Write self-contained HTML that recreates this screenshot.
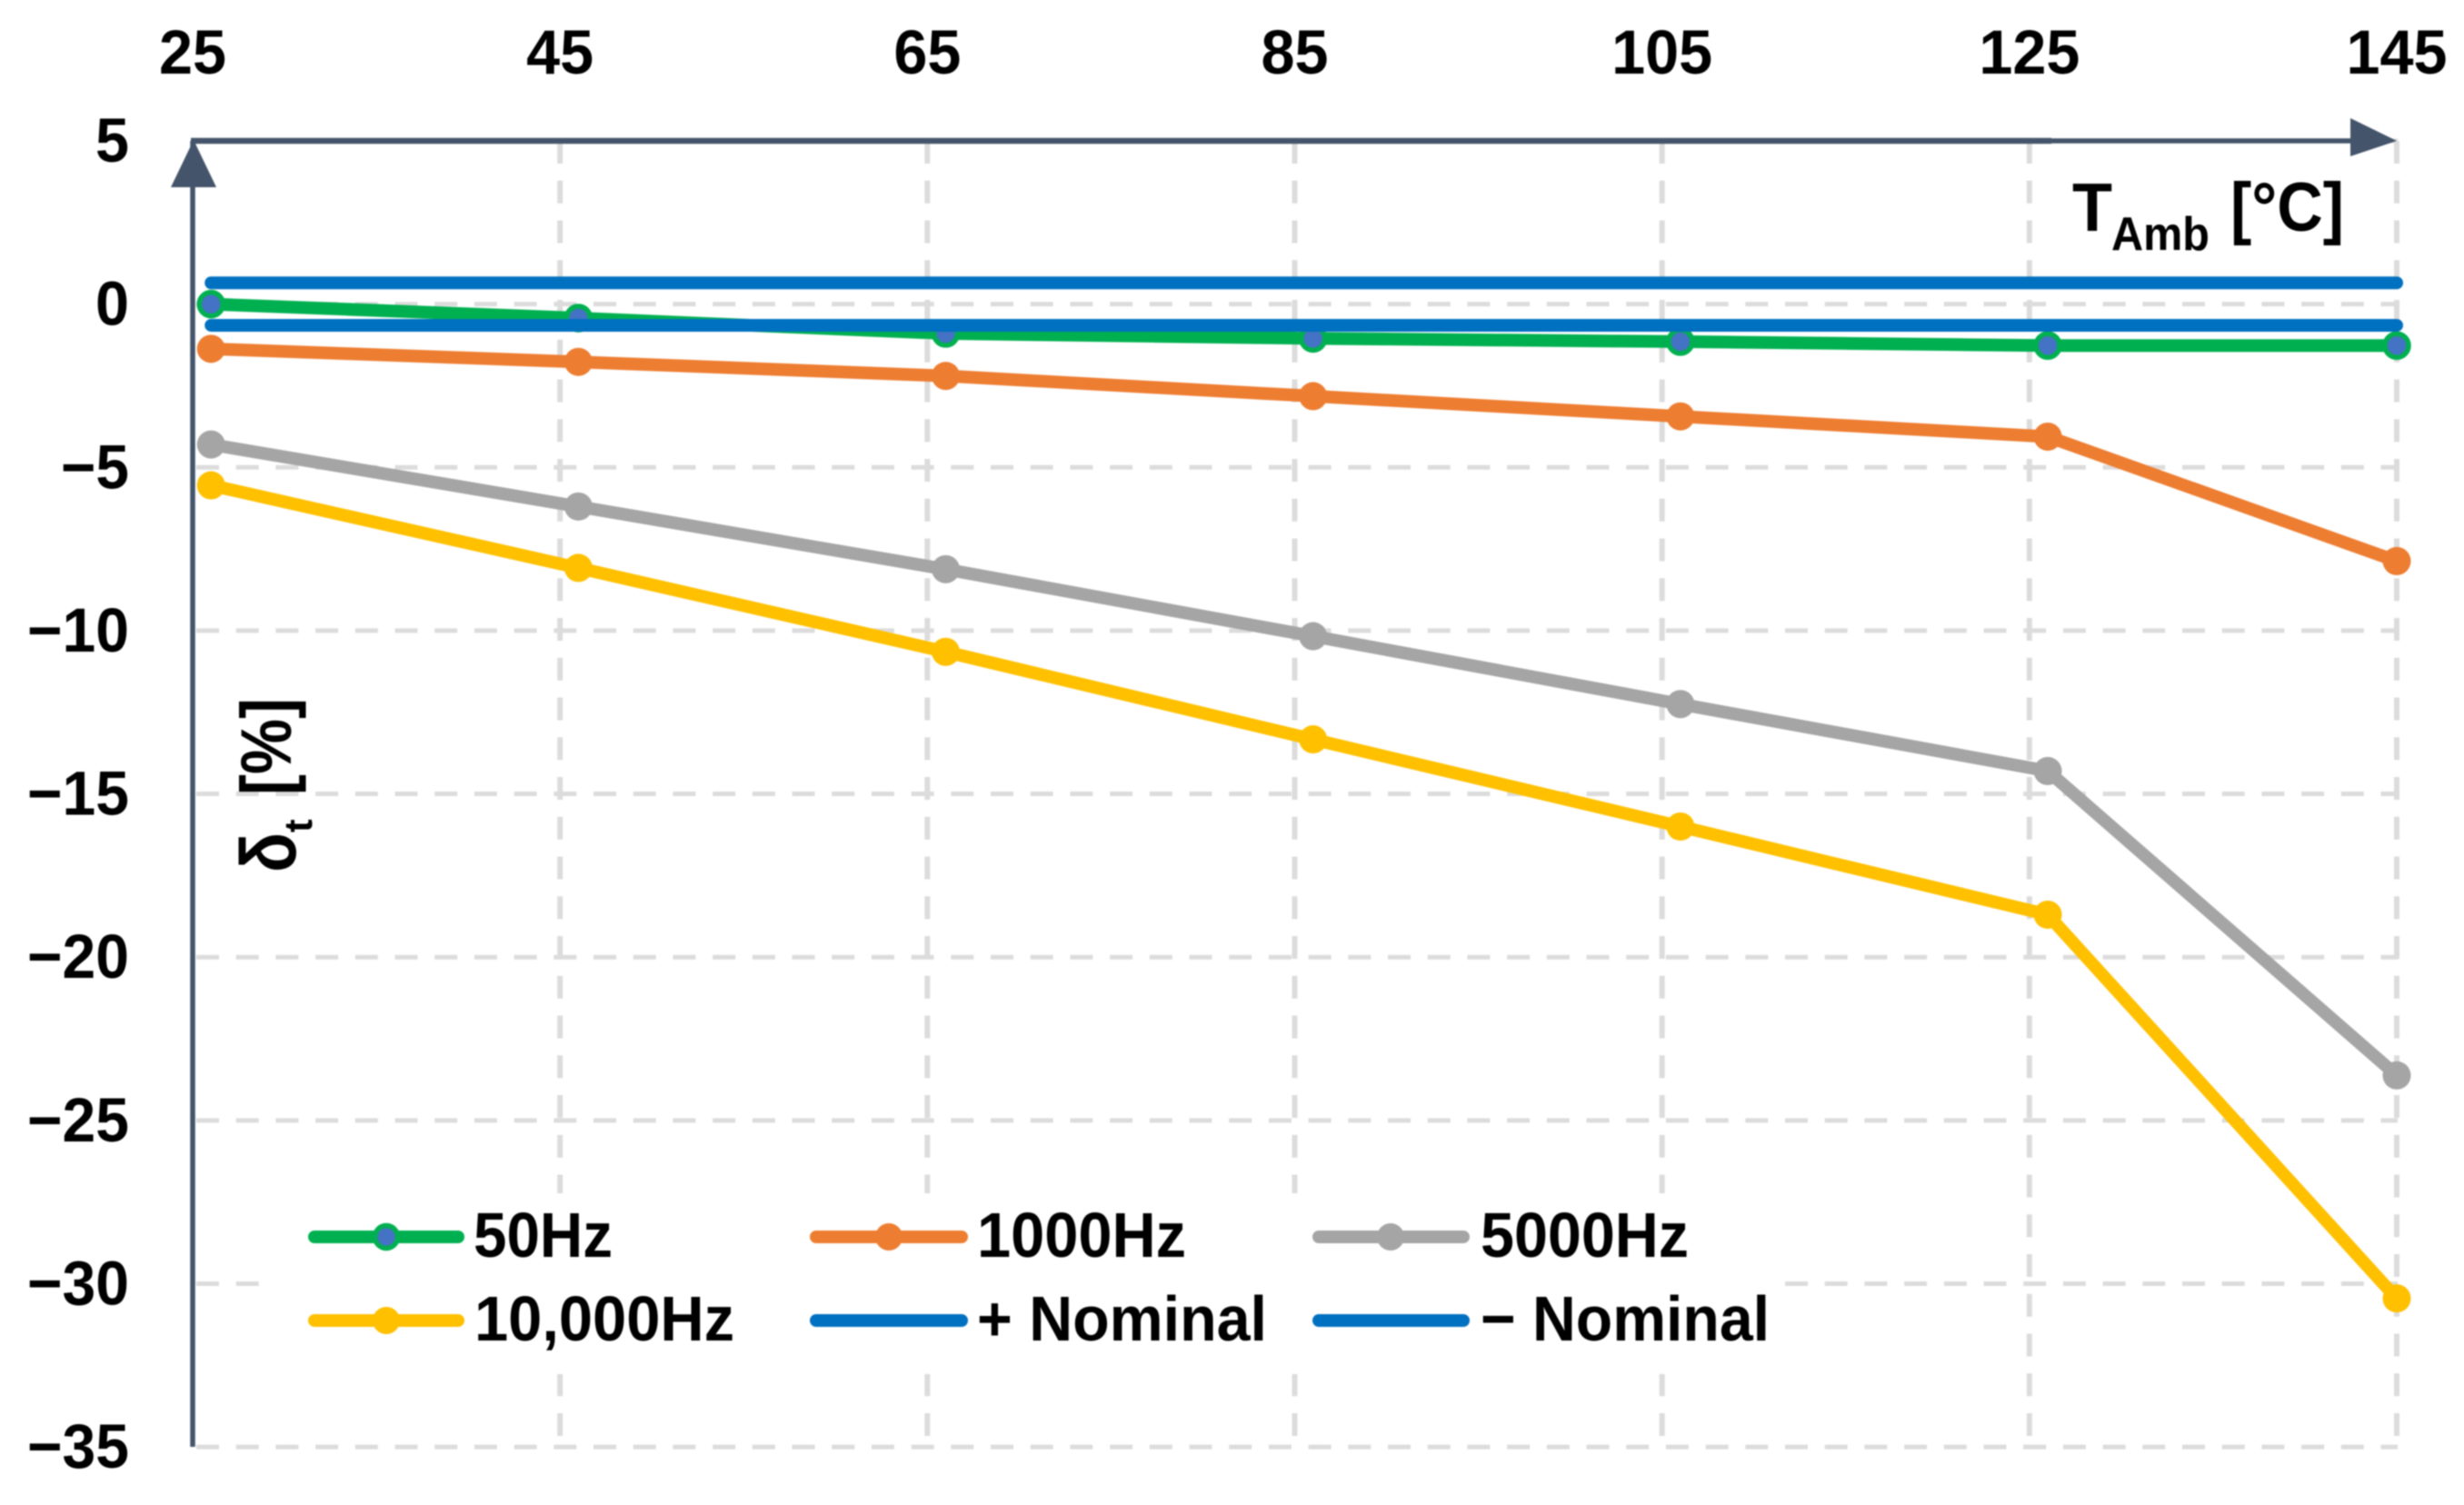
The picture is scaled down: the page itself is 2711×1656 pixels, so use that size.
<!DOCTYPE html>
<html lang="en">
<head>
<meta charset="utf-8">
<title>Deviation versus ambient temperature</title>
<style>
html,body{margin:0;padding:0;background:#fff;width:2711px;height:1656px;overflow:hidden}
svg{display:block;filter:blur(0.7px)}
text{font-family:"Liberation Sans",sans-serif;font-weight:700;fill:#000}
</style>
</head>
<body>
<svg id="chart" xmlns="http://www.w3.org/2000/svg" width="2711" height="1656" viewBox="0 0 2711 1656">
  <rect width="2711" height="1656" fill="#fff"/>
  <g id="grid"></g>
  <rect x="302" y="1313" width="1661" height="199" fill="#fff"/>
  <g id="ticks"></g>
  <g>
    <line x1="212" y1="155" x2="212" y2="1592" stroke="#44546a" stroke-width="5.5"/>
    <line x1="210" y1="155" x2="2257" y2="155" stroke="#44546a" stroke-width="6.5"/>
    <line x1="2257" y1="155" x2="2592" y2="155" stroke="#44546a" stroke-width="5.5"/>
    <polygon points="213,154 238,206 188,206" fill="#44546a"/>
    <polygon points="2637,155 2586,130 2586,172" fill="#44546a"/>
  </g>
  <g id="series"></g>
  <g>
    <text x="2280" y="254" font-size="75" textLength="44" lengthAdjust="spacingAndGlyphs">T</text>
    <text x="2323" y="275" font-size="52" textLength="108" lengthAdjust="spacingAndGlyphs">Amb</text>
    <text x="2454" y="254" font-size="76" textLength="125" lengthAdjust="spacingAndGlyphs">[°C]</text>
  </g>
  <g>
    <text transform="translate(325,960) rotate(-90)" font-size="86" textLength="44" lengthAdjust="spacingAndGlyphs">δ</text>
    <text transform="translate(343,916) rotate(-90)" font-size="44">t</text>
    <text transform="translate(320,875) rotate(-90)" font-size="79" textLength="107" lengthAdjust="spacingAndGlyphs">[%]</text>
  </g>
  <g>
    <g>
      <line x1="346" y1="1361" x2="504" y2="1361" stroke="#00b050" stroke-width="14" stroke-linecap="round"/>
      <circle cx="425" cy="1361" r="12.5" fill="#4472c4" stroke="#00b050" stroke-width="5.5"/>
      <text x="521" y="1383" font-size="70" textLength="153" lengthAdjust="spacingAndGlyphs">50Hz</text>
    </g>
    <g>
      <line x1="898" y1="1361" x2="1058" y2="1361" stroke="#ed7d31" stroke-width="14" stroke-linecap="round"/>
      <circle cx="978" cy="1361" r="15" fill="#ed7d31"/>
      <text x="1075" y="1383" font-size="70" textLength="230" lengthAdjust="spacingAndGlyphs">1000Hz</text>
    </g>
    <g>
      <line x1="1451" y1="1361" x2="1610" y2="1361" stroke="#a5a5a5" stroke-width="14" stroke-linecap="round"/>
      <circle cx="1530" cy="1361" r="15" fill="#a5a5a5"/>
      <text x="1629" y="1383" font-size="70" textLength="229" lengthAdjust="spacingAndGlyphs">5000Hz</text>
    </g>
    <g>
      <line x1="346" y1="1453" x2="504" y2="1453" stroke="#ffc000" stroke-width="14" stroke-linecap="round"/>
      <circle cx="425" cy="1453" r="15" fill="#ffc000"/>
      <text x="522" y="1475" font-size="70" textLength="286" lengthAdjust="spacingAndGlyphs">10,000Hz</text>
    </g>
    <g>
      <line x1="898" y1="1453" x2="1058" y2="1453" stroke="#0070c0" stroke-width="14" stroke-linecap="round"/>
      <text x="1075" y="1475" font-size="70" textLength="319" lengthAdjust="spacingAndGlyphs">+ Nominal</text>
    </g>
    <g>
      <line x1="1451" y1="1453" x2="1610" y2="1453" stroke="#0070c0" stroke-width="14" stroke-linecap="round"/>
      <text x="1629" y="1475" font-size="70" textLength="318" lengthAdjust="spacingAndGlyphs">− Nominal</text>
    </g>
  </g>
</svg>
<script>
const xTickValues = [25, 45, 65, 85, 105, 125, 145];
const yTickValues = [5, 0, -5, -10, -15, -20, -25, -30, -35];
const temperatures = [26, 46, 66, 86, 106, 126, 145];
const hz50 = [0, -0.43, -0.9, -1.05, -1.15, -1.27, -1.27];
const hz1000 = [-1.37, -1.77, -2.2, -2.82, -3.44, -4.06, -7.87];
const hz5000 = [-4.3, -6.2, -8.12, -10.17, -12.25, -14.3, -23.62];
const hz10000 = [-5.55, -8.08, -10.65, -13.33, -16, -18.7, -30.45];
const plusNominal = [0.65, 0.65, 0.65, 0.65, 0.65, 0.65, 0.65];
const minusNominal = [-0.65, -0.65, -0.65, -0.65, -0.65, -0.65, -0.65];

const NS = 'http://www.w3.org/2000/svg';
function xScale(t) { return 212 + (t - 25) * 20.2083; }
function yScale(v) { return 334.6 - v * 35.93; }
function labelWidth(s) { return s.length * 37 + (s.charAt(0) === '\u2212' ? 1 : 0); }
function make(tag, attrs, parent) {
  const el = document.createElementNS(NS, tag);
  for (const k in attrs) el.setAttribute(k, attrs[k]);
  parent.appendChild(el);
  return el;
}
const gridG = document.getElementById('grid');
const tickG = document.getElementById('ticks');
const seriesG = document.getElementById('series');

yTickValues.forEach(function (v) {
  const g = make('line', {x1: 216, x2: 2638, y1: yScale(v), y2: yScale(v), stroke: '#dcdcdc', 'stroke-width': 5, 'stroke-dasharray': '25 18.7'}, gridG);
  
  
  const label = String(v).replace('-', '\u2212');
  const t = make('text', {x: 142, y: yScale(v) + 23, 'font-size': 69, 'text-anchor': 'end', textLength: labelWidth(label), lengthAdjust: 'spacingAndGlyphs'}, tickG);
  t.textContent = label;
  
  
});
xTickValues.forEach(function (v) {
  if (v > 25) {
    const g = make('line', {x1: xScale(v), x2: xScale(v), y1: 155, y2: 1581, stroke: '#dcdcdc', 'stroke-width': 6, 'stroke-dasharray': '25 18.75'}, gridG);
    
    
  }
  const label = String(v);
  const t = make('text', {x: xScale(v), y: 81, 'font-size': 69, 'text-anchor': 'middle', textLength: labelWidth(label), lengthAdjust: 'spacingAndGlyphs'}, tickG);
  t.textContent = label;
  
  
});

function drawSeries(name, values, color, markerFill) {
  const g = make('g', {}, seriesG);
  
  
  const pts = values.map(function (v, i) { return xScale(temperatures[i]) + ',' + yScale(v); }).join(' ');
  const line = make('polyline', {points: pts, fill: 'none', stroke: color, 'stroke-width': 14, 'stroke-linecap': 'round', 'stroke-linejoin': 'round'}, g);
  
  
  if (markerFill) {
    values.forEach(function (v, i) {
      const isPlain = markerFill === color;
      const c = make('circle', {cx: xScale(temperatures[i]), cy: yScale(v), r: isPlain ? 15.5 : 13, fill: markerFill, stroke: isPlain ? 'none' : color, 'stroke-width': isPlain ? 0 : 5.5}, g);
      
      
    });
  }
}
drawSeries('50hz', hz50, '#00b050', '#4472c4');
drawSeries('1000hz', hz1000, '#ed7d31', '#ed7d31');
drawSeries('5000hz', hz5000, '#a5a5a5', '#a5a5a5');
drawSeries('10000hz', hz10000, '#ffc000', '#ffc000');
drawSeries('plus-nominal', plusNominal, '#0070c0', null);
drawSeries('minus-nominal', minusNominal, '#0070c0', null);
</script>
</body>
</html>
